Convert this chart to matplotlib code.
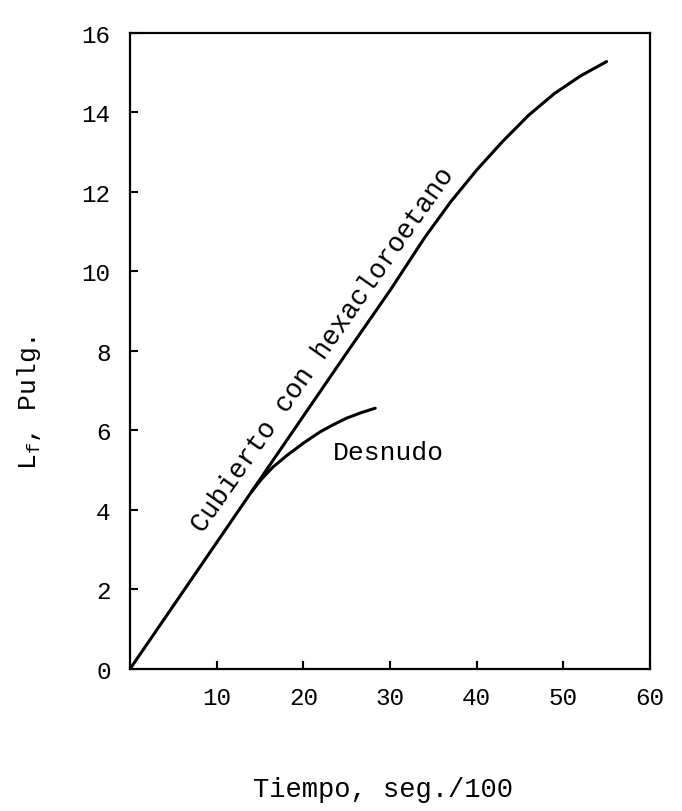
## Crecimiento de Lf con el tiempo: cubierto vs desnudo
import matplotlib
matplotlib.use("Agg")
import matplotlib.pyplot as plt
import numpy as np

plt.rcParams['font.family'] = ['Liberation Mono', 'DejaVu Sans Mono']

# Curva cubierta con hexacloroetano (leida punto a punto)
t_cubierto = [0, 5, 10, 15, 20, 25, 30, 34, 37, 40, 43, 46, 49, 52, 55]
lf_cubierto = [0, 1.59, 3.18, 4.77, 6.36, 7.95, 9.52, 10.85, 11.75, 12.55,
               13.27, 13.93, 14.48, 14.92, 15.28]

# Curva desnuda (se separa cerca de t = 14)
t_desnudo = [14, 15.2, 16.5, 18.1, 20, 21.9, 23.5, 25, 26.7, 28.3]
lf_desnudo = [4.45, 4.78, 5.08, 5.37, 5.68, 5.96, 6.15, 6.31, 6.45, 6.56]

x_ticks = [10, 20, 30, 40, 50, 60]
y_ticks = [0, 2, 4, 6, 8, 10, 12, 14, 16]

fig = plt.figure(figsize=(6.82, 8.12), dpi=100)
ax = fig.add_axes([0.1906, 0.1749, 0.7624, 0.7833])

ax.plot(t_cubierto, lf_cubierto, color='black', lw=2.2, solid_capstyle='round',
        solid_joinstyle='round')
ax.plot(t_desnudo, lf_desnudo, color='black', lw=2.2, solid_capstyle='round',
        solid_joinstyle='round')

ax.set_xlim(0, 60)
ax.set_ylim(0, 16)
ax.set_xticks(x_ticks)
ax.set_yticks(y_ticks)
ax.tick_params(direction='in', length=6, width=1.5, labelsize=17.5)
ax.tick_params(axis='x', pad=12)
ax.tick_params(axis='y', pad=14)
for s in ax.spines.values():
    s.set_linewidth(1.6)

# Etiquetas de las curvas
ax.text(22.9, 7.94, "Cubierto con hexacloroetano", rotation=55, fontsize=19.5,
        ha='center', va='baseline', rotation_mode='anchor')
ax.text(23.4, 5.46, "Desnudo", fontsize=19, ha='left', va='center')

ax.set_ylabel("L$_\\mathregular{f}$, Pulg.", fontsize=19)
ax.yaxis.set_label_coords(-0.168, 0.42)
fig.text(0.5616, 0.027, "Tiempo, seg./100", fontsize=19.5, ha='center', va='center')

fig.savefig("out.png", dpi=100)
